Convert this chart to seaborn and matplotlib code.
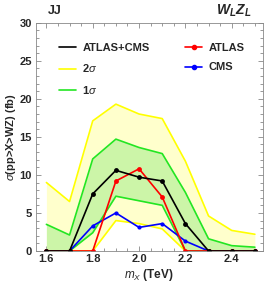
import numpy as np
import pandas as pd
import matplotlib
matplotlib.use("Agg")
import matplotlib.pyplot as plt
import seaborn as sns
from matplotlib.ticker import MultipleLocator
from matplotlib.lines import Line2D

# masses (TeV)
mass = [1.6, 1.7, 1.8, 1.9, 2.0, 2.1, 2.2, 2.3, 2.4, 2.5]

# cross sections (fb)
combined = [0, 0, 7.5, 10.6, 9.7, 9.2, 3.6, 0, 0, 0]
atlas = [0, 0, 0, 9.2, 10.8, 7.1, 0, 0, 0, 0]
cms = [0, 0, 3.3, 5.0, 3.1, 3.6, 1.3, 0, 0, 0]
s1_hi = [3.5, 2.1, 12.1, 14.7, 13.6, 12.8, 7.7, 1.6, 0.7, 0.5]
s1_lo = [0, 0, 2.4, 7.2, 6.6, 6.0, 0, 0, 0, 0]
s2_hi = [9.0, 6.5, 17.1, 19.3, 18.0, 17.4, 11.8, 4.6, 2.7, 2.2]
s2_lo = [0, 0, 0, 4.0, 3.6, 2.9, 0, 0, 0, 0]

df = pd.DataFrame({"m": mass, "comb": combined, "atlas": atlas, "cms": cms,
                   "s1_hi": s1_hi, "s1_lo": s1_lo, "s2_hi": s2_hi, "s2_lo": s2_lo})

sns.set_style("ticks")
plt.rcParams["font.family"] = ["Liberation Sans", "DejaVu Sans"]
plt.rcParams["mathtext.fontset"] = "custom"
plt.rcParams["mathtext.it"] = "Liberation Sans:italic"
plt.rcParams["mathtext.bfit"] = "Liberation Sans:bold:italic"
plt.rcParams["mathtext.bf"] = "Liberation Sans:bold"
plt.rcParams["mathtext.rm"] = "Liberation Sans"

fig = plt.figure(figsize=(2.66, 2.86), dpi=100)
ax = fig.add_axes([0.1335, 0.1224, 0.8552, 0.7982])

yel = "#ffff00"
grn = "#22e622"
ax.fill_between(df.m, df.s2_lo, df.s2_hi, color="#ffffcc", lw=0)
ax.fill_between(df.m, df.s1_lo, df.s1_hi, color="#ccf5a8", lw=0)
for c in ["s2_hi", "s2_lo"]:
    sns.lineplot(data=df, x="m", y=c, color=yel, lw=1.2, ax=ax)
for c in ["s1_hi", "s1_lo"]:
    sns.lineplot(data=df, x="m", y=c, color=grn, lw=1.2, ax=ax)
sns.lineplot(data=df, x="m", y="cms", color="#0000ff", lw=1.2, marker="o",
             markersize=3, markeredgewidth=0, ax=ax)
sns.lineplot(data=df, x="m", y="atlas", color="#ff0000", lw=1.2, marker="o",
             markersize=3.5, markeredgewidth=0, ax=ax)
sns.lineplot(data=df, x="m", y="comb", color="black", lw=1.2, marker="o",
             markersize=3.5, markeredgewidth=0, ax=ax)

ax.set_xlim(1.553, 2.535)
ax.set_ylim(0, 30)
ax.xaxis.set_major_locator(MultipleLocator(0.2))
ax.xaxis.set_minor_locator(MultipleLocator(0.05))
ax.yaxis.set_major_locator(MultipleLocator(5))
ax.yaxis.set_minor_locator(MultipleLocator(1))
ax.tick_params(which="both", direction="in", top=True, right=True,
               labelsize=8, color="#888888", width=0.6, pad=2.5)
ax.tick_params(which="major", length=3.5)
ax.tick_params(which="minor", length=2)
ax.set_xticklabels([f"{v:.1f}" for v in ax.get_xticks()], fontweight="bold")
ax.set_yticklabels([f"{v:g}" for v in ax.get_yticks()], fontweight="bold")
for s in ax.spines.values():
    s.set_color("#888888")
    s.set_linewidth(0.6)

ax.set_xlabel(r"$m_X$ (TeV)", fontsize=8.5, labelpad=2, fontweight="bold")
ax.set_ylabel(r"$\sigma$(pp>X>WZ) (fb)", fontsize=8, labelpad=1, fontweight="bold")

fig.text(0.205, 0.962, "JJ", fontsize=9, fontweight="bold", ha="center", va="center")
fig.text(0.88, 0.962, r"$\mathbfit{W}_{\mathbfit{L}}\mathbfit{Z}_{\mathbfit{L}}$",
         fontsize=10, ha="center", va="center")

handles = [
    Line2D([], [], color="black", lw=1.2),
    Line2D([], [], color=yel, lw=1.2),
    Line2D([], [], color=grn, lw=1.2),
    Line2D([], [], color="#ff0000", lw=1.2, marker="o", markersize=3),
    Line2D([], [], color="#0000ff", lw=1.2, marker="o", markersize=3),
]
labels = ["ATLAS+CMS", r"2$\sigma$", r"1$\sigma$", "ATLAS", "CMS"]
ax.legend(handles, labels, ncol=2, loc="upper left", bbox_to_anchor=(0.06, 0.955),
          frameon=False, prop={"weight": "bold", "size": 8}, handlelength=1.5,
          handletextpad=0.6, columnspacing=3.2, labelspacing=0.85)

fig.savefig("out.png", dpi=100)
